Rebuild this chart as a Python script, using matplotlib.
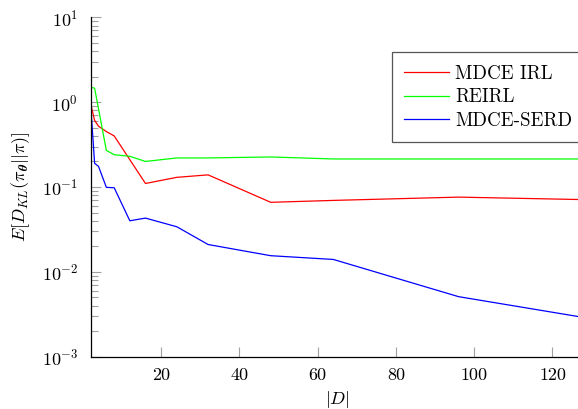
import numpy as np
import matplotlib.pyplot as plt

plt.rcParams["font.family"] = ["cmr10", "DejaVu Serif"]
plt.rcParams["mathtext.fontset"] = "cm"
plt.rcParams["axes.formatter.use_mathtext"] = True

x_mdce = [2, 3, 4, 6, 8, 16, 24, 32, 48, 64, 96, 128]
y_mdce = [0.95, 0.61, 0.52, 0.45, 0.40, 0.11, 0.13, 0.139, 0.066, 0.0695, 0.076, 0.071]

x_reirl = [2, 3, 6, 8, 12, 16, 24, 32, 48, 64, 96, 128]
y_reirl = [1.5, 1.46, 0.27, 0.24, 0.23, 0.20, 0.22, 0.22, 0.226, 0.214, 0.214, 0.214]

x_serd = [2, 3, 4, 6, 8, 12, 16, 24, 32, 48, 64, 96, 128]
y_serd = [0.92, 0.19, 0.175, 0.099, 0.098, 0.040, 0.043, 0.034, 0.021, 0.0155, 0.014, 0.0051, 0.0029]

labels = ["MDCE IRL", "REIRL", "MDCE-SERD"]
x_ticks = [20, 40, 60, 80, 100, 120]

fig = plt.figure(figsize=(5.78, 4.09), dpi=100)
ax = fig.add_axes([90.7 / 578, 52.3 / 409, (583.8 - 90.7) / 578, (356.7 - 17.3) / 409])

ax.plot(x_mdce, y_mdce, color="#ff0000", lw=0.9, label=labels[0])
ax.plot(x_reirl, y_reirl, color="#00ff00", lw=0.9, label=labels[1])
ax.plot(x_serd, y_serd, color="#0000ff", lw=0.9, label=labels[2])

ax.set_yscale("log")
ax.set_xlim(2, 128)
ax.set_ylim(1e-3, 1e1)
ax.set_xticks(x_ticks)
ax.set_xticklabels([str(t) for t in x_ticks])

ax.spines["top"].set_visible(False)
ax.spines["right"].set_visible(False)
ax.spines["left"].set_linewidth(0.9)
ax.spines["bottom"].set_linewidth(0.9)

ax.tick_params(which="major", direction="in", length=7.5, width=0.8, color="#a0a0a0",
               labelsize=13, pad=8)
ax.tick_params(axis="y", which="major", pad=9)
ax.tick_params(which="minor", direction="in", length=5.2, width=0.8, color="#a0a0a0")
ax.tick_params(axis="x", which="minor", bottom=False)

ax.set_xlabel(r"$|D|$", fontsize=13, labelpad=4)
ax.set_ylabel(r"$E[D_{KL}(\pi_{\boldsymbol{\theta}}||\pi)]$", fontsize=13, labelpad=7)

leg = ax.legend(loc="upper left", bbox_to_anchor=(391.7 / 578, 1 - 52.3 / 409),
                bbox_transform=fig.transFigure, fontsize=13.7, fancybox=False,
                framealpha=1, edgecolor="#555555", handlelength=2.35,
                handletextpad=0.32, borderpad=0.65, labelspacing=0.3,
                borderaxespad=0)
leg.get_frame().set_linewidth(0.9)

fig.savefig("out.png", dpi=100)
